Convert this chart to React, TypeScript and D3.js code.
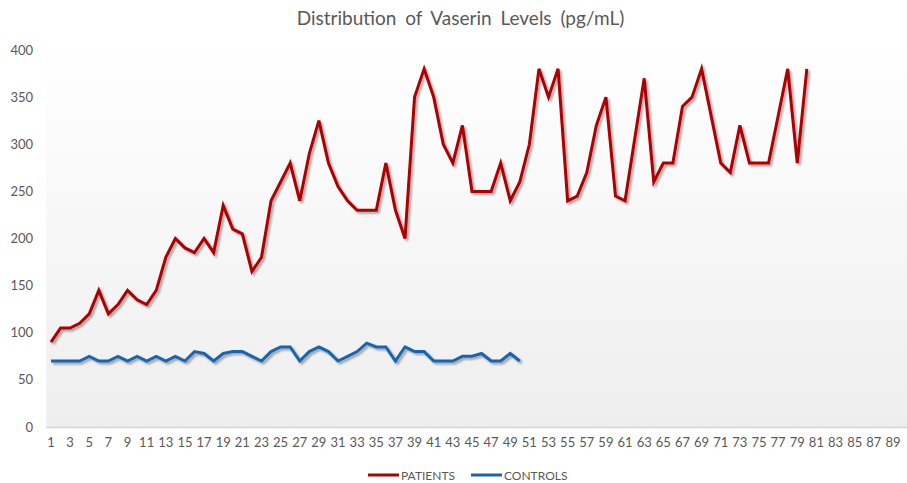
import React from "react";
import * as d3 from "d3";

const categories: number[] = d3.range(1, 91);

const patients: number[] = [
  90, 105, 105, 110, 120, 145, 120, 130, 145, 135,
  130, 145, 180, 200, 190, 185, 200, 185, 235, 210,
  205, 165, 180, 240, 260, 280, 240, 290, 325, 280,
  255, 240, 230, 230, 230, 280, 230, 200, 350, 380,
  350, 300, 280, 320, 250, 250, 250, 280, 240, 260,
  300, 380, 350, 380, 240, 245, 270, 320, 350, 245,
  240, 305, 370, 260, 280, 280, 340, 350, 380, 330,
  280, 270, 320, 280, 280, 280, 330, 380, 280, 380,
];

const controls: number[] = [
  70, 70, 70, 70, 75, 70, 70, 75, 70, 75,
  70, 75, 70, 75, 70, 80, 78, 70, 78, 80,
  80, 75, 70, 80, 85, 85, 70, 80, 85, 80,
  70, 75, 80, 89, 85, 85, 70, 85, 80, 80,
  70, 70, 70, 75, 75, 78, 70, 70, 78, 70,
];

const yTicks: number[] = [0, 50, 100, 150, 200, 250, 300, 350, 400];
const seriesNames: string[] = ["PATIENTS", "CONTROLS"];
const seriesColors: string[] = ["#ad0000", "#1865b0"];

const W = 907;
const H = 483;
const left = 46.2;
const right = 907.3;
const top = 50;
const bottom = 427;

export default function App() {
  const x = d3
    .scaleBand<number>()
    .domain(categories)
    .range([left, right])
    .padding(0);
  const y = d3.scaleLinear().domain([0, 400]).range([bottom, top]);
  const cx = (i: number) => (x(i + 1) as number) + x.bandwidth() / 2;
  const line = d3
    .line<number>()
    .x((_, i) => cx(i))
    .y((d) => y(d));

  const font = "Lato, 'Open Sans', sans-serif";
  const textColor = "#595959";

  return (
    <svg
      width={W}
      height={H}
      style={{ position: "absolute", left: 0, top: 0, background: "#fff" }}
    >
      <defs>
        <linearGradient id="bg" x1="0" y1="0" x2="0" y2="1">
          <stop offset="0" stopColor="#ffffff" />
          <stop offset="1" stopColor="#eeeeee" />
        </linearGradient>
        <filter id="shadow" x="-5%" y="-5%" width="110%" height="120%">
          <feGaussianBlur in="SourceAlpha" stdDeviation="1.3" />
          <feOffset dx="1.5" dy="2" result="ob" />
          <feComponentTransfer>
            <feFuncA type="linear" slope="0.35" />
          </feComponentTransfer>
          <feMerge>
            <feMergeNode />
            <feMergeNode in="SourceGraphic" />
          </feMerge>
        </filter>
      </defs>
      <rect x={left} y={top - 10} width={right - left} height={bottom - top + 10} fill="url(#bg)" />
      <line x1={left} x2={right} y1={bottom + 0.5} y2={bottom + 0.5} stroke="#d4d4d4" strokeWidth={1.5} />

      <text
        x={460.5}
        y={25}
        textAnchor="middle"
        fontFamily={font}
        fontSize={19}
        fill={textColor}
        style={{ wordSpacing: "4px" }}
      >
        Distribution of Vaserin Levels (pg/mL)
      </text>

      {yTicks.map((t) => (
        <text
          key={t}
          x={33}
          y={y(t) + 4.5}
          textAnchor="end"
          fontFamily={font}
          fontSize={13}
          fill={textColor}
        >
          {t}
        </text>
      ))}

      {categories
        .filter((c) => c % 2 === 1)
        .map((c) => (
          <text
            key={c}
            x={(x(c) as number) + x.bandwidth() / 2}
            y={447}
            textAnchor="middle"
            fontFamily={font}
            fontSize={13}
            fill={textColor}
          >
            {c}
          </text>
        ))}

      <g filter="url(#shadow)">
        <path d={line(patients) || ""} fill="none" stroke={seriesColors[0]} strokeWidth={3} strokeLinejoin="miter" />
        <path d={line(controls) || ""} fill="none" stroke={seriesColors[1]} strokeWidth={3} strokeLinejoin="miter" />
      </g>

      {seriesNames.map((n, i) => {
        const lx = i === 0 ? 368 : 471;
        return (
          <g key={n}>
            <line x1={lx} x2={lx + 31} y1={475} y2={475} stroke={seriesColors[i]} strokeWidth={3} />
            <text x={lx + 33} y={479.5} fontFamily={font} fontSize={12} fill={textColor}>
              {n}
            </text>
          </g>
        );
      })}
    </svg>
  );
}
